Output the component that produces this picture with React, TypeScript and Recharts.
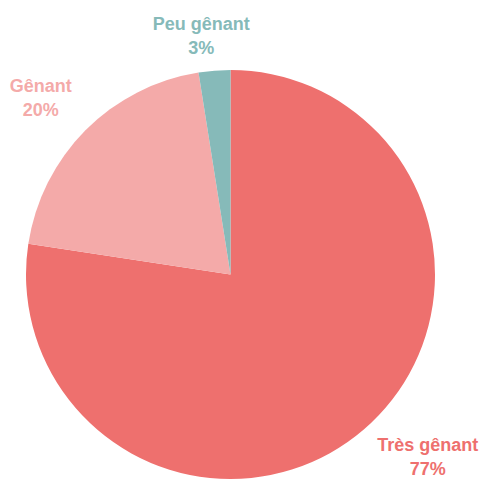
import { Cell, Pie, PieChart } from "recharts";

const categories = ["Très gênant", "Gênant", "Peu gênant"];
const shares = [77.4, 20.1, 2.5];
const colors = ["#EE706E", "#F4AAA9", "#86BAB9"];

const data = categories.map((name, i) => ({
  name,
  value: shares[i],
  color: colors[i],
}));

const RADIAN = Math.PI / 180;

// label placement tweaks (radius beyond the edge, angle shift in degrees)
const labelOffsets = [
  { dr: 63, da: 6.8 },
  { dr: 56, da: 1.6 },
  { dr: 38, da: 2.4 },
];

const renderLabel = (props: any) => {
  const { cx, cy, midAngle, outerRadius, index, name, value } = props;
  const off = labelOffsets[index] || { dr: 50, da: 0 };
  const r = outerRadius + off.dr;
  const a = (midAngle + off.da) * RADIAN;
  const x = cx + r * Math.cos(a);
  const y = cy - r * Math.sin(a);
  return (
    <text
      x={x}
      y={y}
      textAnchor="middle"
      fill={colors[index]}
      fontFamily="'Liberation Sans', Arial, sans-serif"
      fontWeight="bold"
      fontSize={18}
    >
      <tspan x={x} dy={-4}>
        {name}
      </tspan>
      <tspan x={x} dy={24}>
        {Math.round(value)}%
      </tspan>
    </text>
  );
};

const App = () => {
  return (
    <div
      style={{
        position: "absolute",
        left: 0,
        top: 0,
        width: 484,
        height: 481,
        background: "#fff",
      }}
    >
      <style>{`.recharts-pie-sectors { filter: drop-shadow(0 0 3px rgba(0,0,0,0.35)); }`}</style>
      <PieChart
        width={484}
        height={481}
        margin={{ top: 0, right: 0, bottom: 0, left: 0 }}
      >
        <Pie
          data={data}
          dataKey="value"
          nameKey="name"
          cx={230.5}
          cy={274.5}
          outerRadius={204.5}
          startAngle={90}
          endAngle={-270}
          stroke="none"
          label={renderLabel}
          labelLine={false}
          isAnimationActive={false}
        >
          {data.map((item) => (
            <Cell key={item.name} fill={item.color} />
          ))}
        </Pie>
      </PieChart>
    </div>
  );
};

export default App;
